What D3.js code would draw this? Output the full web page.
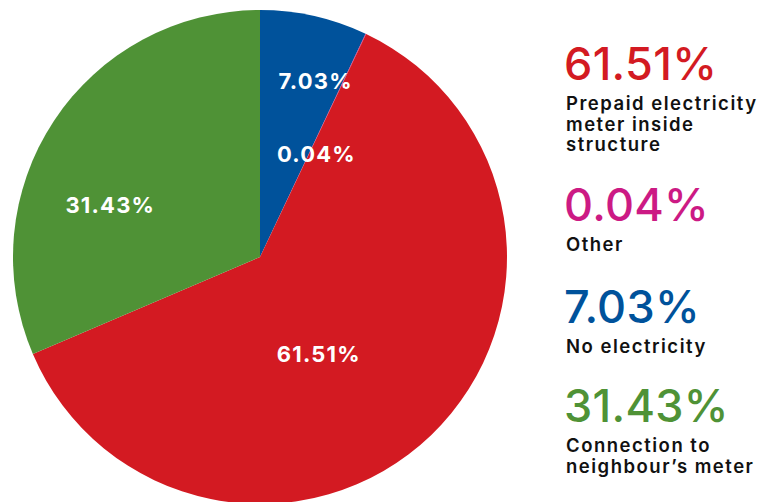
<!DOCTYPE html>
<html>
<head>
<meta charset="utf-8">
<script src="https://cdn.jsdelivr.net/npm/d3@7"></script>
<style>
  html, body { margin: 0; padding: 0; background: #fff; }
  svg { display: block; }
</style>
</head>
<body>
<svg id="chart" width="765" height="502"></svg>
<script>
// Household electricity source shares (%)
const categories = ["No electricity", "Other", "Prepaid electricity meter inside structure", "Connection to neighbour’s meter"];
const values = [7.03, 0.04, 61.51, 31.43];
const colors = ["#00529b", "#cc1a84", "#d31a22", "#4f9236"];
const legendOrder = [2, 1, 0, 3];
const legendLines = [
  ["No electricity"],
  ["Other"],
  ["Prepaid electricity", "meter inside", "structure"],
  ["Connection to", "neighbour’s meter"]
];

const fmt = v => v.toFixed(2) + "%";
const svg = d3.select("#chart");
const cx = 260, cy = 257, R = 247;
const font = "Inter, 'Noto Sans', sans-serif";

const pie = d3.pie().sort(null).value(d => d)(values);
const arc = d3.arc().innerRadius(0).outerRadius(R);

const g = svg.append("g").attr("transform", `translate(${cx},${cy})`);
g.selectAll("path.slice")
  .data(pie)
  .join("path")
  .attr("class", "slice")
  .attr("d", arc)
  .attr("fill", (d, i) => colors[i]);

// In-slice labels: placed by polar position (angle in degrees, radius in px)
const labelPolar = [
  { a: 17.4, r: 184 },
  { a: 28.5, r: 117 },
  { a: 149, r: 113 },
  { a: 289, r: 159 }
];
g.selectAll("text.slice-label")
  .data(pie)
  .join("text")
  .attr("class", "slice-label")
  .attr("x", (d, i) => labelPolar[i].r * Math.sin(labelPolar[i].a * Math.PI / 180) + 0.6)
  .attr("y", (d, i) => -labelPolar[i].r * Math.cos(labelPolar[i].a * Math.PI / 180))
  .attr("text-anchor", "middle")
  .attr("dominant-baseline", "central")
  .attr("fill", "#fff")
  .attr("font-family", font)
  .attr("font-weight", 700)
  .attr("font-size", 22)
  .attr("letter-spacing", 1.2)
  .text(d => fmt(d.data));

// Legend column
const legendX = 566;
const legendTops = [80, 221, 323, 422];
const legend = svg.append("g");
legendOrder.forEach((idx, k) => {
  const base = legendTops[k];
  legend.append("text")
    .attr("x", legendX - 2)
    .attr("y", base)
    .attr("fill", colors[idx])
    .attr("font-family", font)
    .attr("font-weight", 500)
    .attr("font-size", 45)
    .attr("letter-spacing", 0.3)
    .text(fmt(values[idx]));
  legendLines[idx].forEach((line, j) => {
    legend.append("text")
      .attr("x", legendX)
      .attr("y", base + 30 + j * 20.5)
      .attr("fill", "#111")
      .attr("font-family", font)
      .attr("font-weight", 600)
      .attr("font-size", 18.5)
      .attr("letter-spacing", 1.5)
      .text(line);
  });
});
</script>
</body>
</html>
